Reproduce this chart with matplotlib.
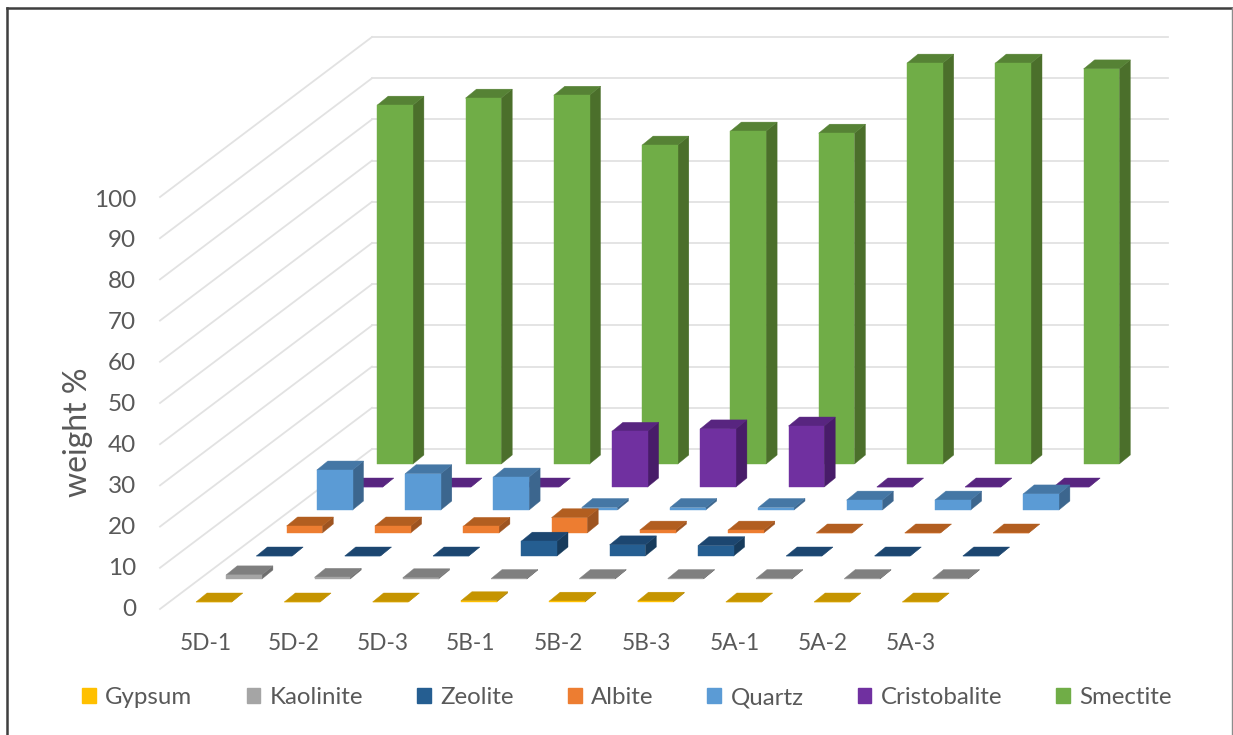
import matplotlib
matplotlib.use("Agg")
import matplotlib.pyplot as plt
from matplotlib.patches import Patch, Polygon

samples = ["5D-1", "5D-2", "5D-3", "5B-1", "5B-2", "5B-3", "5A-1", "5A-2", "5A-3"]
minerals = ["Gypsum", "Kaolinite", "Zeolite", "Albite", "Quartz", "Cristobalite", "Smectite"]

gypsum = [0.0, 0.0, 0.0, 0.3, 0.2, 0.2, 0.0, 0.0, 0.0]
kaolinite = [1.0, 0.4, 0.3, 0.1, 0.1, 0.1, 0.1, 0.1, 0.1]
zeolite = [0.0, 0.0, 0.0, 3.6, 2.7, 2.5, 0.0, 0.0, 0.0]
albite = [1.7, 1.7, 1.6, 3.7, 0.7, 0.7, 0.0, 0.0, 0.0]
quartz = [9.7, 8.8, 8.0, 0.6, 0.6, 0.6, 2.4, 2.4, 3.9]
cristobalite = [0.0, 0.0, 0.0, 13.5, 14.1, 14.8, 0.0, 0.0, 0.0]
smectite = [87.1, 88.8, 89.5, 77.4, 80.8, 80.3, 97.3, 97.3, 95.9]
series = [gypsum, kaolinite, zeolite, albite, quartz, cristobalite, smectite]

ticks = [0, 10, 20, 30, 40, 50, 60, 70, 80, 90, 100]

# front, top, side colours for each mineral
front_c = ["#ffc000", "#a5a5a5", "#255e91", "#ed7d31", "#5b9bd5", "#7030a0", "#70ad47"]
top_c = ["#c59400", "#7f7f7f", "#1c4670", "#b25e20", "#4577a5", "#582580", "#568235"]
side_c = ["#a67c00", "#6e6e6e", "#173b5c", "#9e5420", "#3c668e", "#481c69", "#4b6f2b"]

text_c = "#595959"
grid_c = "#e2e2e2"
unit = 4.12  # pixels per weight %
bar_w, dep_x, dep_y = 35.7, 11, 9

plt.rcParams["font.family"] = ["Lato", "DejaVu Sans"]
fig = plt.figure(figsize=(12.33, 7.35), dpi=100)
ax = fig.add_axes([0, 0, 1, 1])
ax.set_xlim(0, 1233)
ax.set_ylim(735, 0)
ax.axis("off")


def grid_y(v, back=True):
    return (449 if back else 609) - unit * v


# walls
for v in ticks:
    ax.plot([160, 372], [grid_y(v, False), grid_y(v)], color=grid_c, lw=1.3, zorder=1)
    ax.plot([372, 1120 if v == 0 else 1168], [grid_y(v), grid_y(v)], color=grid_c, lw=1.3, zorder=1)
    ax.text(136, 609 - 4.09 * v, str(v), ha="right", va="center", fontsize=17.5, color=text_c)

# bars, back row first so the nearer ones cover it
z = 2
for row in range(len(series) - 1, -1, -1):
    for col, val in enumerate(series[row]):
        x = 196 + 88.3 * col + 30.2 * row
        y = 602 - 23 * row
        t = y - unit * val
        side = [(x + bar_w, y), (x + bar_w + dep_x, y - dep_y), (x + bar_w + dep_x, t - dep_y), (x + bar_w, t)]
        top = [(x, t), (x + bar_w, t), (x + bar_w + dep_x, t - dep_y), (x + dep_x, t - dep_y)]
        face = [(x, y), (x + bar_w, y), (x + bar_w, t), (x, t)]
        ax.add_patch(Polygon(side, fc=side_c[row], ec=side_c[row], lw=0.3, zorder=z))
        ax.add_patch(Polygon(top, fc=top_c[row], ec=top_c[row], lw=0.3, zorder=z))
        ax.add_patch(Polygon(face, fc=front_c[row], ec=front_c[row], lw=0.3, zorder=z))
        z += 1

for i, s in enumerate(samples):
    ax.text(206 + 88.1 * i, 644, s, ha="center", va="center", fontsize=16.3, color=text_c)

ax.text(78, 432, "weight %", rotation=90, ha="center", va="center", fontsize=23, color=text_c)

handles = [Patch(fc=c, ec=c, label=m) for c, m in zip(front_c, minerals)]
ax.legend(handles=handles, ncol=7, frameon=False, loc="center", bbox_to_anchor=(627, 697.5),
          bbox_transform=ax.transData, fontsize=17.3, labelcolor=text_c,
          handlelength=0.58, handleheight=0.58, handletextpad=0.38, columnspacing=2.25)

# screenshot frame
ax.plot([7, 7], [735, 8], color="#3f3f3f", lw=1.8, clip_on=False, zorder=50)
ax.plot([7, 1232], [8, 8], color="#3f3f3f", lw=1.8, clip_on=False, zorder=50)
ax.plot([1232, 1232], [8, 735], color="#8c8c8c", lw=1, clip_on=False, zorder=50)

plt.savefig("out.png", dpi=100)
